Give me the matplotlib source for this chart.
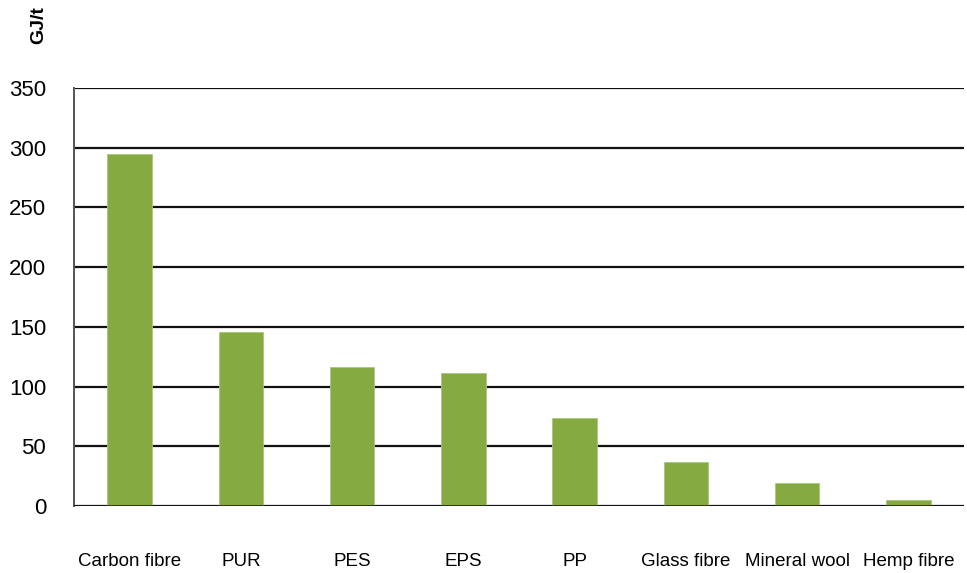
import matplotlib.pyplot as plt
import numpy as np

plt.rcParams['font.family'] = ['Liberation Sans', 'DejaVu Sans']

# data
materials = ['Carbon fibre', 'PUR', 'PES', 'EPS', 'PP',
             'Glass fibre', 'Mineral wool', 'Hemp fibre']
energy = [295, 146, 116, 111, 74, 37, 19, 5]
yticks = [0, 50, 100, 150, 200, 250, 300, 350]

fig = plt.figure(figsize=(9.67, 5.73), dpi=100)
ax = fig.add_axes([0.0765, 0.117, 0.9205, 0.7294])

x = np.arange(len(materials))
ax.bar(x, energy, width=0.4, color='#86aa42', edgecolor='#a9c77a',
       linewidth=0.6, zorder=3)

ax.set_xlim(-0.5, len(materials) - 0.5)
ax.set_ylim(0, 350)
ax.set_yticks(yticks)
ax.set_xticks(x)
ax.set_xticklabels(materials, fontsize=13.5)
ax.tick_params(axis='x', length=0, pad=34)
ax.tick_params(axis='y', length=0, pad=20, labelsize=16)

ax.grid(axis='y', color='#111111', linewidth=1.6, zorder=1)
for s in ['top', 'right', 'bottom']:
    ax.spines[s].set_visible(False)
ax.spines['left'].set_color('#555555')
ax.spines['left'].set_linewidth(1.4)
ax.axhline(0, color='#111111', linewidth=1.8, zorder=4)

fig.text(0.040, 0.99, 'GJ/t', rotation=90, fontweight='bold', fontsize=14,
         ha='center', va='top')

plt.savefig('out.png')
